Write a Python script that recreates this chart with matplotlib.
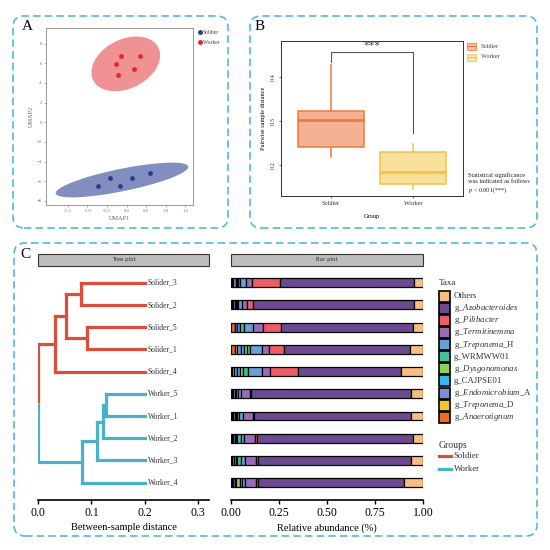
import numpy as np
import matplotlib
matplotlib.use("Agg")
import matplotlib.pyplot as plt
from matplotlib.patches import FancyBboxPatch, Rectangle, Polygon, Patch
from matplotlib.lines import Line2D

plt.rcParams['font.family'] = ['Liberation Serif', 'DejaVu Serif']
plt.rcParams['mathtext.fontset'] = 'custom'
plt.rcParams['mathtext.rm'] = 'Liberation Serif'
plt.rcParams['mathtext.it'] = 'Liberation Serif:italic'

# ---------------- Panel A data (UMAP) ----------------
umap_groups = ['Soldier', 'Worker']
soldier_x = [-0.74, -0.43, -0.17, 0.15, 0.61]
soldier_y = [-6.43, -5.64, -6.43, -5.64, -5.20]
worker_x = [-0.15, -0.27, 0.35, 0.18, -0.21]
worker_y = [6.77, 5.97, 6.77, 5.37, 4.83]
umap_xticks = [-1.5, -1.0, -0.5, 0.0, 0.5, 1.0, 1.5]
umap_yticks = [-8, -6, -4, -2, 0, 2, 4, 6, 8]

# ---------------- Panel B data (boxplot) ----------------
box_groups = ['Soldier', 'Worker']
box_whislo = [0.218, 0.144]
box_q1 = [0.241, 0.156]
box_med = [0.303, 0.183]
box_q3 = [0.324, 0.229]
box_whishi = [0.428, 0.248]
box_yticks = [0.2, 0.3, 0.4]
sig_bar_y = 0.458
sig_feet_y = [0.435, 0.273]
sig_label = '***'

# ---------------- Panel C data ----------------
sample_labels = ['Solider_3', 'Solider_2', 'Solider_5', 'Solider_1', 'Solider_4',
                 'Worker_5', 'Worker_1', 'Worker_2', 'Worker_3', 'Worker_4']
tree_leaf_depth = 0.2
tree_nodes = {
    'root': (0.0, ['sold', 'work']),
    'sold': (0.031, ['s_a', 'Solider_4']),
    's_a': (0.052, ['s_32', 's_51']),
    's_32': (0.080, ['Solider_3', 'Solider_2']),
    's_51': (0.091, ['Solider_5', 'Solider_1']),
    'work': (0.082, ['w_a', 'Worker_4']),
    'w_a': (0.111, ['w_b', 'Worker_3']),
    'w_b': (0.121, ['w_51', 'Worker_2']),
    'w_51': (0.128, ['Worker_5', 'Worker_1']),
}
tree_xticks = [0.0, 0.1, 0.2, 0.3]

# taxa in legend order; values per sample (sample_labels order)
taxa_labels = ['Others', 'g_$\\mathit{Azobacteroides}$', 'g_$\\mathit{Pilibacter}$',
               'g_$\\mathit{Termitinemma}$', 'g_$\\mathit{Treponema}$_H', 'g_WRMWW01',
               'g_$\\mathit{Dysgonomonas}$', 'g_CAJPSE01', 'g_$\\mathit{Endomicrobium}$_A',
               'g_$\\mathit{Treponema}$_D', 'g_$\\mathit{Anaerotignum}$']
others = [0.049, 0.049, 0.054, 0.066, 0.112, 0.061, 0.061, 0.052, 0.061, 0.097]
azobacteroides = [0.698, 0.838, 0.688, 0.659, 0.538, 0.837, 0.823, 0.815, 0.802, 0.766]
pilibacter = [0.145, 0.030, 0.095, 0.080, 0.150, 0.005, 0.005, 0.008, 0.008, 0.008]
termitinemma = [0.030, 0.025, 0.050, 0.035, 0.040, 0.045, 0.050, 0.060, 0.055, 0.058]
treponema_h = [0.030, 0.022, 0.045, 0.065, 0.075, 0.015, 0.022, 0.015, 0.022, 0.015]
wrmww01 = [0.014, 0.008, 0.020, 0.015, 0.025, 0.010, 0.010, 0.018, 0.022, 0.012]
dysgonomonas = [0.004, 0.003, 0.005, 0.012, 0.012, 0.004, 0.004, 0.008, 0.008, 0.020]
cajpse01 = [0.008, 0.006, 0.013, 0.018, 0.020, 0.006, 0.008, 0.004, 0.010, 0.004]
endomicrobium_a = [0.012, 0.012, 0.010, 0.018, 0.016, 0.010, 0.010, 0.012, 0.006, 0.012]
treponema_d = [0.004, 0.003, 0.003, 0.012, 0.006, 0.003, 0.003, 0.004, 0.003, 0.004]
anaerotignum = [0.006, 0.004, 0.017, 0.020, 0.006, 0.004, 0.004, 0.004, 0.003, 0.004]
taxa_values = [others, azobacteroides, pilibacter, termitinemma, treponema_h, wrmww01,
               dysgonomonas, cajpse01, endomicrobium_a, treponema_d, anaerotignum]
taxa_colors = ['#F7BE81', '#6B4A8F', '#EE5C66', '#9A6CB8', '#6A9FD8', '#45BFA0',
               '#8FCF5C', '#3CB6EA', '#7F8ED4', '#F5C32C', '#EF6A26']
bar_xticks = [0.0, 0.25, 0.5, 0.75, 1.0]

# ---------------- styles ----------------
C_SOLDIER_A = '#2E3C8F'
C_WORKER_A = '#E3262B'
C_SOLDIER_TREE = '#DC4D3D'
C_WORKER_TREE = '#4AB2C8'
BOX_EDGE = ['#EE7B42', '#F2C244']
BOX_FILL = ['#F5B293', '#F9DF9C']
DASH = '#55B8E0'

W = H = 550.0
fig = plt.figure(figsize=(5.5, 5.5), dpi=100)


def ax_px(l, t, r, b):
    return fig.add_axes([l / W, 1 - b / H, (r - l) / W, (b - t) / H])


def fx(x):
    return x / W


def fy(y):
    return 1 - y / H


# dashed panel boxes
for (l, t, r, b) in [(13, 16, 228, 228), (250, 16, 537, 228), (14, 243, 537, 536)]:
    fig.patches.append(FancyBboxPatch((fx(l), fy(b)), (r - l) / W, (b - t) / H,
                                      boxstyle='round,pad=0,rounding_size=0.02',
                                      transform=fig.transFigure, fill=False,
                                      edgecolor=DASH, lw=1.2, linestyle=(0, (4.5, 2.5))))

for lab, x, y in [('A', 22, 27), ('B', 255, 27), ('C', 20, 255)]:
    fig.text(fx(x), fy(y), lab, fontsize=11, ha='left', va='center')

# ---------------- Panel A ----------------
axA = ax_px(46, 28, 193, 205)
axA.set_xlim(-2.06, 1.70)
axA.set_ylim(-8.41, 9.59)


def ellipse_pts(xs, ys, r=3.25, n=200):
    xs = np.asarray(xs); ys = np.asarray(ys)
    cov = np.cov(xs, ys)
    vals, vecs = np.linalg.eigh(cov)
    t = np.linspace(0, 2 * np.pi, n)
    circ = np.vstack([np.cos(t), np.sin(t)]) * np.sqrt(vals)[:, None] * r
    pts = vecs @ circ
    return np.column_stack([pts[0] + xs.mean(), pts[1] + ys.mean()])


axA.add_patch(Polygon(ellipse_pts(worker_x, worker_y), closed=True,
                      facecolor='#EE7F82', edgecolor='none', alpha=0.85))
axA.add_patch(Polygon(ellipse_pts(soldier_x, soldier_y), closed=True,
                      facecolor='#7581BA', edgecolor='none', alpha=0.9))
axA.scatter(soldier_x, soldier_y, s=6, color=C_SOLDIER_A, zorder=3)
axA.scatter(worker_x, worker_y, s=6, color=C_WORKER_A, zorder=3)
axA.set_xticks(umap_xticks)
axA.set_xticklabels([f'{v:.1f}' for v in umap_xticks])
axA.set_yticks(umap_yticks)
axA.tick_params(labelsize=3.5, length=1.5, width=0.4, colors='#777777', pad=1.5)
for s in axA.spines.values():
    s.set_color('#8A8A8A'); s.set_linewidth(0.6)
axA.set_xlabel('UMAP1', fontsize=4.5, color='#666666', labelpad=2)
axA.set_ylabel('UMAP2', fontsize=4.5, color='#666666', labelpad=2)
for i, (g, c) in enumerate(zip(umap_groups, [C_SOLDIER_A, C_WORKER_A])):
    fig.lines.append(Line2D([fx(200)], [fy(32 + 10 * i)], marker='o', ms=2.5,
                            color=c, transform=fig.transFigure, lw=0))
    fig.text(fx(203), fy(32 + 10 * i), g, fontsize=4, va='center', color='#444444')

# ---------------- Panel B ----------------
axB = ax_px(281, 41, 463, 196)
stats = []
for i, g in enumerate(box_groups):
    stats.append(dict(label=g, whislo=box_whislo[i], q1=box_q1[i], med=box_med[i],
                      q3=box_q3[i], whishi=box_whishi[i], fliers=[]))
for i, st in enumerate(stats):
    axB.bxp([st], positions=[i + 1], widths=0.8, showcaps=False, patch_artist=True,
            boxprops=dict(facecolor=BOX_FILL[i], edgecolor=BOX_EDGE[i], lw=1.1),
            whiskerprops=dict(color=BOX_EDGE[i], lw=1.1),
            medianprops=dict(color=BOX_EDGE[i], lw=2.0))
axB.set_xlim(0.4, 2.6)
axB.set_ylim(0.129, 0.483)
axB.set_xticks([1, 2])
axB.set_xticklabels(box_groups)
axB.set_yticks(box_yticks)
axB.set_yticklabels([f'{v:.1f}' for v in box_yticks], rotation=90, va='center')
axB.tick_params(labelsize=4.5, length=1.5, width=0.5, colors='#333333', pad=2)
for s in axB.spines.values():
    s.set_color('#333333'); s.set_linewidth(0.7)
axB.set_xlabel('Group', fontsize=4.5, labelpad=6)
axB.set_ylabel('Pairwise sample distance', fontsize=4.5, labelpad=4)
axB.plot([1, 1, 2, 2], [sig_feet_y[0], sig_bar_y, sig_bar_y, sig_feet_y[1]],
         color='#555555', lw=0.8)
axB.text(1.5, sig_bar_y + 0.003, sig_label, ha='center', va='bottom', fontsize=8,
         color='#444444', family='DejaVu Sans')
for i, g in enumerate(box_groups):
    y = 46 + 11 * i
    fig.patches.append(Rectangle((fx(467), fy(y + 3.5)), 9 / W, 7 / H,
                                 facecolor=BOX_FILL[i], edgecolor=BOX_EDGE[i], lw=0.7,
                                 alpha=0.8, transform=fig.transFigure))
    fig.lines.append(Line2D([fx(467), fx(476)], [fy(y), fy(y)], color=BOX_EDGE[i],
                            lw=0.8, transform=fig.transFigure))
    fig.text(fx(481), fy(y), g, fontsize=4.5, va='center', color='#444444')
fig.text(fx(468), fy(184), 'Statistical significance\nwas indicated as follows\n'
         '$\\mathit{p}$ < 0.001(***)', fontsize=4.5, va='center', ha='left',
         linespacing=1.25, color='#222222')

# ---------------- Panel C: tree ----------------
leaf_y = {name: len(sample_labels) - i for i, name in enumerate(sample_labels)}


def node_y(n):
    if n in leaf_y:
        return leaf_y[n]
    return np.mean([node_y(c) for c in tree_nodes[n][1]])


def node_depth(n):
    return tree_leaf_depth if n in leaf_y else tree_nodes[n][0]


def leaves_of(n):
    if n in leaf_y:
        return [n]
    out = []
    for c in tree_nodes[n][1]:
        out += leaves_of(c)
    return out


def node_color(n):
    lv = leaves_of(n)
    if all(l.startswith('Solider') for l in lv):
        return C_SOLDIER_TREE
    if all(l.startswith('Worker') for l in lv):
        return C_WORKER_TREE
    return None


ylo, yhi = 0.22, 10.57
axT = ax_px(38.3, 270, 209, 500)
axT.set_xlim(0, 0.321)
axT.set_ylim(ylo, yhi)
LW = 2.3
for n, (d, ch) in tree_nodes.items():
    ys = [node_y(c) for c in ch]
    col = node_color(n)
    if col is None:
        ym = node_y(n)
        for c in ch:
            cc = node_color(c)
            axT.plot([d, d], [ym, node_y(c)], color=cc, lw=LW, solid_capstyle='butt')
    else:
        axT.plot([d, d], [min(ys), max(ys)], color=col, lw=LW, solid_capstyle='projecting')
    for c in ch:
        axT.plot([d, node_depth(c)], [node_y(c), node_y(c)], color=node_color(c), lw=LW,
                 solid_capstyle='projecting')
for name in sample_labels:
    axT.text(tree_leaf_depth + 0.006, leaf_y[name], name, fontsize=5.5, va='center',
             ha='left', color='#333333')
for s in ['top', 'right', 'left']:
    axT.spines[s].set_visible(False)
axT.spines['bottom'].set_linewidth(1.2)
axT.set_yticks([])
axT.set_xticks(tree_xticks)
axT.set_xticklabels([f'{v:.1f}' for v in tree_xticks])
axT.tick_params(axis='x', labelsize=8.5, length=3, width=1.0, pad=2)
axT.set_xlabel('Between-sample distance', fontsize=7.5, labelpad=3)

# ---------------- Panel C: bars ----------------
axBar = ax_px(231.3, 270, 422.9, 500)
axBar.set_xlim(0, 1.0)
axBar.set_ylim(ylo, yhi)
ypos = [leaf_y[n] for n in sample_labels]
left = np.zeros(len(sample_labels))
for vals, col in zip(taxa_values[::-1], taxa_colors[::-1]):
    axBar.barh(ypos, vals, left=left, height=0.4, color=col, edgecolor='black', lw=0.9)
    left = left + np.asarray(vals)
for s in ['top', 'right', 'left']:
    axBar.spines[s].set_visible(False)
axBar.spines['bottom'].set_linewidth(1.2)
axBar.set_yticks([])
axBar.set_xticks(bar_xticks)
axBar.set_xticklabels([f'{v:.2f}' for v in bar_xticks])
axBar.tick_params(axis='x', labelsize=8.5, length=3, width=1.0, pad=2)
axBar.set_xlabel('Relative abundance (%)', fontsize=7.5, labelpad=3)

# strips
for (l, r, txt) in [(38, 209, 'Tree plot'), (231, 423, 'Bar plot')]:
    fig.patches.append(Rectangle((fx(l), fy(266)), (r - l) / W, 12 / H, facecolor='#BDBDBD',
                                 edgecolor='#333333', lw=0.8, transform=fig.transFigure))
    fig.text(fx((l + r) / 2), fy(260), txt, fontsize=4, ha='center', va='center',
             color='#333333', family='DejaVu Sans')

# legend: taxa
fig.text(fx(439), fy(283), 'Taxa', fontsize=6.5, va='center', color='#333333')
for i, (lab, col) in enumerate(zip(taxa_labels, taxa_colors)):
    yc = 296 + 12.13 * i
    fig.patches.append(Rectangle((fx(439), fy(yc + 5.5)), 11 / W, 11 / H, facecolor=col,
                                 edgecolor='black', lw=1.2, transform=fig.transFigure))
    fig.text(fx(453.5), fy(yc), lab, fontsize=6.3, va='center', color='#333333')

fig.text(fx(439), fy(445), 'Groups', fontsize=7, va='center', color='#333333')
for i, (g, col) in enumerate(zip(['Soldier', 'Worker'], [C_SOLDIER_TREE, C_WORKER_TREE])):
    yc = 456 + 13 * i
    fig.lines.append(Line2D([fx(439), fx(451)], [fy(yc), fy(yc)], color=col, lw=2.3,
                            transform=fig.transFigure))
    fig.text(fx(453.5), fy(yc), g, fontsize=6.3, va='center', color='#333333')

fig.savefig('out.png', dpi=100)
